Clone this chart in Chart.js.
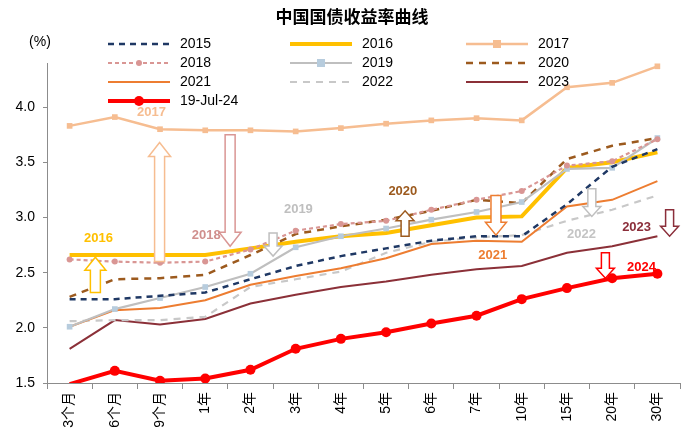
<!DOCTYPE html>
<html>
<head>
<meta charset="utf-8">
<script src="https://cdn.jsdelivr.net/npm/chart.js@4.4.1/dist/chart.umd.min.js"></script>
<style>
  html, body { margin: 0; padding: 0; background: #fff; }
  #wrap { width: 700px; height: 442px; }
</style>
</head>
<body>
<div id="wrap"><canvas id="curve" width="700" height="442"></canvas></div>
<script>
// tenors and yields (%)
const tenors = ["3个月", "6个月", "9个月", "1年", "2年", "3年", "4年", "5年", "6年", "7年", "10年", "15年", "20年", "30年"];
const y2015 = [2.26, 2.26, 2.29, 2.32, 2.44, 2.56, 2.65, 2.72, 2.79, 2.83, 2.83, 3.12, 3.46, 3.62];
const y2016 = [2.66, 2.66, 2.66, 2.66, 2.72, 2.78, 2.83, 2.86, 2.93, 3.00, 3.01, 3.45, 3.50, 3.59];
const y2017 = [3.83, 3.91, 3.80, 3.79, 3.79, 3.78, 3.81, 3.85, 3.88, 3.90, 3.88, 4.18, 4.22, 4.37];
const y2018 = [2.62, 2.60, 2.59, 2.60, 2.71, 2.88, 2.94, 2.97, 3.07, 3.16, 3.24, 3.47, 3.51, 3.71];
const y2019 = [2.01, 2.17, 2.27, 2.37, 2.49, 2.73, 2.83, 2.90, 2.98, 3.05, 3.14, 3.44, 3.45, 3.72];
const y2020 = [2.28, 2.44, 2.45, 2.48, 2.66, 2.85, 2.92, 2.98, 3.06, 3.16, 3.13, 3.53, 3.65, 3.72];
const y2021 = [2.01, 2.16, 2.18, 2.25, 2.39, 2.47, 2.54, 2.63, 2.76, 2.79, 2.78, 3.10, 3.16, 3.33];
const y2022 = [2.06, 2.07, 2.07, 2.10, 2.37, 2.44, 2.51, 2.68, 2.78, 2.82, 2.84, 2.97, 3.07, 3.20];
const y2023 = [1.81, 2.07, 2.03, 2.08, 2.22, 2.30, 2.37, 2.42, 2.48, 2.53, 2.56, 2.68, 2.74, 2.83];
const y2024 = [1.49, 1.61, 1.52, 1.54, 1.62, 1.81, 1.90, 1.96, 2.04, 2.11, 2.26, 2.36, 2.45, 2.49];
const yTicks = [1.5, 2.0, 2.5, 3.0, 3.5, 4.0];

// year tags on the plot (x = tenor index, y = yield)
const noteText = ["2016", "2017", "2018", "2019", "2020", "2021", "2022", "2023", "2024"];
const noteX = [0.64, 1.81, 3.02, 5.06, 7.37, 9.36, 11.32, 12.54, 12.65];
const noteY = [2.81, 3.95, 2.84, 3.07, 3.24, 2.66, 2.85, 2.91, 2.55];
const noteColor = ["#FFC000", "#F6BD91", "#D08F8D", "#BFBFBF", "#9C5A1E", "#ED7D31", "#C4C4C4", "#8B2E3A", "#FF0000"];

// hollow arrows: x index, tail yield, tip yield
const arrowX = [0.57, 1.99, 3.55, 4.50, 7.42, 9.43, 11.55, 13.27, 11.85];
const arrowFrom = [2.32, 2.60, 3.75, 2.86, 2.83, 3.20, 3.26, 3.07, 2.68];
const arrowTo = [2.64, 3.68, 2.74, 2.65, 3.06, 2.84, 3.01, 2.83, 2.45];
const arrowColor = ["#FFC000", "#F6BD91", "#D99694", "#BFBFBF", "#9C5A1E", "#ED7D31", "#BFBFBF", "#8B2E3A", "#FF0000"];

const fontFam = "'Liberation Sans', 'Noto Sans CJK SC', sans-serif";

function line(label, data, color, extra) {
  return Object.assign({
    label: label, data: data, borderColor: color, backgroundColor: color,
    borderWidth: 2.2, pointRadius: 0, pointBorderWidth: 0, tension: 0, fill: false, clip: 0, order: 5
  }, extra || {});
}

let datasets = [
  line("2015", y2015, "#1F3864", { borderWidth: 2.5, borderDash: [6, 5] }),
  line("2016", y2016, "#FFC000", { borderWidth: 4, order: 9 }),
  line("2017", y2017, "#F6BD91", { borderWidth: 2.5, pointRadius: 4, pointStyle: "rect" }),
  line("2018", y2018, "#D99694", { borderDash: [4, 3], pointRadius: 3 }),
  line("2019", y2019, "#BFBFBF", { pointRadius: 4, pointStyle: "rect", pointBackgroundColor: "#B7CCDD" }),
  line("2020", y2020, "#9C5A1E", { borderWidth: 2.5, borderDash: [7, 6] }),
  line("2021", y2021, "#ED7D31", { borderWidth: 2 }),
  line("2022", y2022, "#C8C8C8", { borderDash: [7, 6] }),
  line("2023", y2023, "#8B3038", { borderWidth: 2 }),
  line("19-Jul-24", y2024, "#FF0000", {
    borderWidth: 4, order: 0, legendRadius: 5,
    // markers below the axis floor are not shown
    pointRadius: function (c) { return c.raw < 1.5 ? 0 : 5; }
  })
];

function arrowPath(ctx, x, yTail, yTip, shaft, head, headLen) {
  let dir = yTail > yTip ? 1 : -1;
  let base = yTip + dir * headLen;
  ctx.beginPath();
  ctx.moveTo(x - shaft / 2, yTail);
  ctx.lineTo(x - shaft / 2, base);
  ctx.lineTo(x - head / 2, base);
  ctx.lineTo(x, yTip);
  ctx.lineTo(x + head / 2, base);
  ctx.lineTo(x + shaft / 2, base);
  ctx.lineTo(x + shaft / 2, yTail);
  ctx.closePath();
}

const extras = {
  id: "extras",
  afterDraw(chart) {
    let ctx = chart.ctx;
    let xs = chart.scales.x, ys = chart.scales.y;
    ctx.save();

    // title
    ctx.fillStyle = "#000";
    ctx.textAlign = "center";
    ctx.textBaseline = "middle";
    ctx.font = "bold 17px 'Noto Sans CJK SC', sans-serif";
    ctx.fillText("中国国债收益率曲线", 352, 17);

    ctx.font = "14px " + fontFam;
    ctx.fillText("(%)", 40, 42);

    // legend, 3 columns
    let colX = [108, 290, 466];
    let rowY = [44, 63, 82, 101];
    chart.data.datasets.forEach(function (d, i) {
      let x0 = colX[i % 3], y0 = rowY[Math.floor(i / 3)];
      ctx.strokeStyle = d.borderColor;
      ctx.lineWidth = d.borderWidth;
      ctx.setLineDash(d.borderDash || []);
      ctx.beginPath();
      ctx.moveTo(x0, y0);
      ctx.lineTo(x0 + 62, y0);
      ctx.stroke();
      ctx.setLineDash([]);
      let r = d.legendRadius || (typeof d.pointRadius === "number" ? d.pointRadius : 0);
      if (r > 0) {
        ctx.fillStyle = d.pointBackgroundColor || d.borderColor;
        ctx.beginPath();
        if (d.pointStyle === "rect") ctx.rect(x0 + 31 - r, y0 - r, 2 * r, 2 * r);
        else ctx.arc(x0 + 31, y0, r, 0, Math.PI * 2);
        ctx.fill();
      }
      ctx.fillStyle = "#000";
      ctx.textAlign = "left";
      ctx.font = "14px " + fontFam;
      ctx.fillText(d.label, x0 + 72, y0);
    });

    // arrows
    ctx.lineWidth = 1.5;
    arrowX.forEach(function (ax, i) {
      let px = xs.getPixelForValue(ax);
      let pTail = ys.getPixelForValue(arrowFrom[i]);
      let pTip = ys.getPixelForValue(arrowTo[i]);
      let len = Math.abs(pTail - pTip);
      let shaft = len > 60 ? 10 : (len < 28 ? 8 : 10);
      let head = len > 60 ? 22 : (len < 28 ? 18 : 21);
      let headLen = len > 60 ? 14 : (len < 28 ? 10 : 13);
      arrowPath(ctx, px, pTail, pTip, shaft, head, headLen);
      ctx.fillStyle = "#fff";
      ctx.fill();
      ctx.strokeStyle = arrowColor[i];
      ctx.stroke();
    });

    // year tags
    ctx.font = "bold 13px " + fontFam;
    ctx.textAlign = "center";
    noteText.forEach(function (t, i) {
      ctx.fillStyle = noteColor[i];
      ctx.fillText(t, xs.getPixelForValue(noteX[i]), ys.getPixelForValue(noteY[i]));
    });
    ctx.restore();
  }
};

new Chart(document.getElementById("curve"), {
  type: "line",
  data: { labels: tenors, datasets: datasets },
  options: {
    responsive: false,
    animation: false,
    devicePixelRatio: 1,
    layout: { padding: { top: 63, right: 20, left: 0, bottom: 0 } },
    plugins: { legend: { display: false }, title: { display: false }, tooltip: { enabled: false } },
    scales: {
      x: {
        offset: true,
        afterFit: function (s) { s.height = 59; },
        ticks: { minRotation: 90, maxRotation: 90, autoSkip: false, padding: 3, color: "#000", font: { size: 14, family: fontFam } },
        grid: { offset: true, drawOnChartArea: false, drawTicks: true, tickLength: 6, color: "#8c8c8c" },
        border: { color: "#8c8c8c", width: 1 }
      },
      y: {
        min: 1.5,
        max: 4.4,
        afterBuildTicks: function (s) { s.ticks = yTicks.map(function (v) { return { value: v }; }); },
        afterFit: function (s) { s.width = 47; },
        ticks: { padding: 8, color: "#000", font: { size: 14, family: fontFam }, callback: function (v) { return Number(v).toFixed(1); } },
        grid: { drawOnChartArea: false, drawTicks: true, tickLength: 4, color: "#8c8c8c" },
        border: { color: "#8c8c8c", width: 1 }
      }
    }
  },
  plugins: [extras]
});
</script>
</body>
</html>
